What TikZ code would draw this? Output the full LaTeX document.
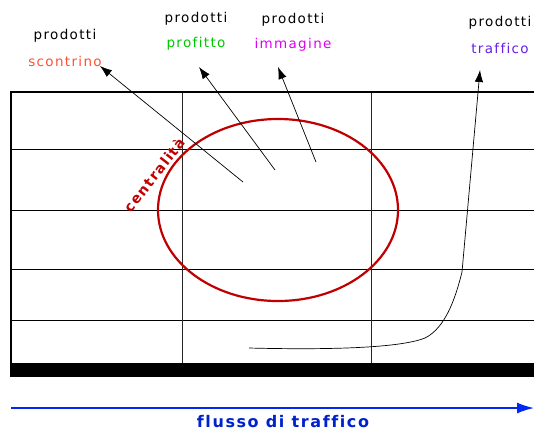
\documentclass[tikz,border=0pt]{standalone}
\usepackage{fontspec}
\setmainfont[LetterSpace=10,Ligatures=CommonOff]{DejaVu Sans}
\usepackage{xcolor}
\usetikzlibrary{arrows.meta,positioning}

\definecolor{scontrinocol}{RGB}{255,80,50}
\definecolor{profittocol}{RGB}{0,200,0}
\definecolor{immaginecol}{RGB}{220,0,240}
\definecolor{trafficocol}{RGB}{100,30,230}
\definecolor{cerchiocol}{RGB}{192,0,0}
\definecolor{flussocol}{RGB}{0,40,240}

\begin{document}
\begin{tikzpicture}[x=1pt, y=-1pt, ->, >={Latex[length=12pt,width=8.5pt]}, node distance=25pt,
                    font=\fontsize{13.5}{15}\selectfont]
  \useasboundingbox (0,0) rectangle (534,432);

  % griglia
  \foreach \y in {149,210,269,320}
    \draw[-, line width=0.9pt] (11,\y) -- (534,\y);
  \foreach \x in {182,371}
    \draw[-, line width=0.9pt, black!85] (\x,92) -- (\x,363);
  \draw[-, line width=2.2pt] (534,92) -- (11,92) -- (11,377);
  \fill (11,363) rectangle (534,377);

  % centralita
  \draw[-, cerchiocol, line width=2.2pt] (278,210) ellipse [x radius=120, y radius=91];
  \node[cerchiocol, font=\fontsize{14}{16}\selectfont\bfseries, rotate=52] (Z) at (154,175) {centralità};

  % etichette
  \node               (P1) at (65,36)      {prodotti};
  \node[scontrinocol] (S)  [below of=P1]   {scontrino};
  \node               (P2) at (196,19)     {prodotti};
  \node[profittocol]  (R)  [below of=P2]   {profitto};
  \node               (P3) at (293,20)     {prodotti};
  \node[immaginecol]  (I)  [below of=P3]   {immagine};
  \node               (P4) at (500,23)     {prodotti};
  \node[trafficocol]  (T)  [below of=P4]   {traffico};

  \coordinate (s0) at (243,182);  \coordinate (s1) at (100,66);
  \coordinate (r0) at (275,170);  \coordinate (r1) at (199,67);
  \coordinate (i0) at (316,162);  \coordinate (i1) at (278,67);
  \coordinate (t0) at (249,348);  \coordinate (t1) at (480,70);

  \path[line width=0.7pt]
        (s0) edge (s1)
        (r0) edge (r1)
        (i0) edge (i1);
  \draw[line width=0.7pt] (t0) .. controls (330,350) and (400,348) .. (425,338)
                               .. controls (445,328) and (455,300) .. (462,272) -- (t1);

  % flusso
  \coordinate (f0) at (11,408);
  \coordinate (f1) at (534,408);
  \draw[flussocol, line width=1.6pt, >={Latex[length=17pt,width=11pt]}]
        (f0) -- (f1) node[pos=0.52, below=3pt, font=\fontsize{16}{18}\selectfont\bfseries, text=flussocol!85!black] (F) {flusso di traffico};
\end{tikzpicture}
\end{document}
